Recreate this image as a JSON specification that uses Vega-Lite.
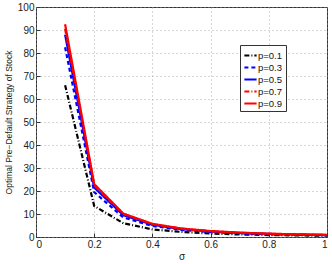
{
  "$schema": "https://vega.github.io/schema/vega-lite/v6.json",
  "width": 291,
  "height": 230,
  "autosize": "none",
  "padding": {"left": 36, "top": 7, "right": 5, "bottom": 27},
  "background": "white",
  "config": {
    "font": "Liberation Sans",
    "view": {"stroke": "#333", "strokeWidth": 1},
    "axis": {
      "grid": true,
      "gridDash": [1, 3],
      "gridColor": "#999",
      "gridOpacity": 0.8,
      "domain": false,
      "tickColor": "#333",
      "tickSize": -4,
      "labelFont": "Liberation Sans",
      "labelFontSize": 10,
      "labelColor": "#222",
      "titleFont": "Liberation Sans",
      "titleFontWeight": "normal",
      "titleColor": "#222"
    }
  },
  "data": {
    "values": [
      {"sigma": 0.1, "p": "p=0.1", "v": 66}, {"sigma": 0.2, "p": "p=0.1", "v": 13.5}, {"sigma": 0.3, "p": "p=0.1", "v": 6}, {"sigma": 0.4, "p": "p=0.1", "v": 3.3}, {"sigma": 0.5, "p": "p=0.1", "v": 2.2}, {"sigma": 0.6, "p": "p=0.1", "v": 1.5}, {"sigma": 0.7, "p": "p=0.1", "v": 1.1}, {"sigma": 0.8, "p": "p=0.1", "v": 0.85}, {"sigma": 0.9, "p": "p=0.1", "v": 0.7}, {"sigma": 1.0, "p": "p=0.1", "v": 0.55},
      {"sigma": 0.1, "p": "p=0.3", "v": 82.5}, {"sigma": 0.2, "p": "p=0.3", "v": 19.5}, {"sigma": 0.3, "p": "p=0.3", "v": 8.5}, {"sigma": 0.4, "p": "p=0.3", "v": 4.8}, {"sigma": 0.5, "p": "p=0.3", "v": 3.1}, {"sigma": 0.6, "p": "p=0.3", "v": 2.15}, {"sigma": 0.7, "p": "p=0.3", "v": 1.6}, {"sigma": 0.8, "p": "p=0.3", "v": 1.2}, {"sigma": 0.9, "p": "p=0.3", "v": 0.95}, {"sigma": 1.0, "p": "p=0.3", "v": 0.8},
      {"sigma": 0.1, "p": "p=0.5", "v": 88}, {"sigma": 0.2, "p": "p=0.5", "v": 21.5}, {"sigma": 0.3, "p": "p=0.5", "v": 9.5}, {"sigma": 0.4, "p": "p=0.5", "v": 5.3}, {"sigma": 0.5, "p": "p=0.5", "v": 3.4}, {"sigma": 0.6, "p": "p=0.5", "v": 2.35}, {"sigma": 0.7, "p": "p=0.5", "v": 1.75}, {"sigma": 0.8, "p": "p=0.5", "v": 1.35}, {"sigma": 0.9, "p": "p=0.5", "v": 1.05}, {"sigma": 1.0, "p": "p=0.5", "v": 0.85},
      {"sigma": 0.1, "p": "p=0.7", "v": 90.5}, {"sigma": 0.2, "p": "p=0.7", "v": 22.5}, {"sigma": 0.3, "p": "p=0.7", "v": 10}, {"sigma": 0.4, "p": "p=0.7", "v": 5.6}, {"sigma": 0.5, "p": "p=0.7", "v": 3.6}, {"sigma": 0.6, "p": "p=0.7", "v": 2.5}, {"sigma": 0.7, "p": "p=0.7", "v": 1.85}, {"sigma": 0.8, "p": "p=0.7", "v": 1.4}, {"sigma": 0.9, "p": "p=0.7", "v": 1.1}, {"sigma": 1.0, "p": "p=0.7", "v": 0.9},
      {"sigma": 0.1, "p": "p=0.9", "v": 92.5}, {"sigma": 0.2, "p": "p=0.9", "v": 23}, {"sigma": 0.3, "p": "p=0.9", "v": 10.2}, {"sigma": 0.4, "p": "p=0.9", "v": 5.7}, {"sigma": 0.5, "p": "p=0.9", "v": 3.7}, {"sigma": 0.6, "p": "p=0.9", "v": 2.6}, {"sigma": 0.7, "p": "p=0.9", "v": 1.9}, {"sigma": 0.8, "p": "p=0.9", "v": 1.45}, {"sigma": 0.9, "p": "p=0.9", "v": 1.15}, {"sigma": 1.0, "p": "p=0.9", "v": 0.95}
    ]
  },
  "mark": {"type": "line", "strokeWidth": 2.2, "clip": true},
  "encoding": {
    "x": {
      "field": "sigma", "type": "quantitative",
      "scale": {"domain": [0, 1], "nice": false},
      "axis": {"values": [0, 0.2, 0.4, 0.6, 0.8, 1], "format": "~g", "title": "σ", "titleFontSize": 10, "labelPadding": 6, "titlePadding": 2}
    },
    "y": {
      "field": "v", "type": "quantitative",
      "scale": {"domain": [0, 100], "nice": false},
      "axis": {"values": [0, 10, 20, 30, 40, 50, 60, 70, 80, 90, 100], "title": "Optimal Pre−Default Strategy of Stock", "titleFontSize": 8.5, "labelPadding": 6, "titlePadding": 4}
    },
    "color": {
      "field": "p", "type": "nominal",
      "scale": {"domain": ["p=0.1", "p=0.3", "p=0.5", "p=0.7", "p=0.9"], "range": ["#000000", "#0000ff", "#0000ff", "#ff0000", "#ff0000"]},
      "legend": {
        "title": null, "orient": "none", "legendX": 204, "legendY": 38,
        "symbolType": "stroke", "symbolSize": 150, "symbolStrokeWidth": 2,
        "labelFontSize": 9.5, "labelColor": "#111", "rowPadding": 0, "labelOffset": 0,
        "strokeColor": "#333", "fillColor": "white", "padding": 3
      }
    },
    "strokeDash": {
      "field": "p", "type": "nominal",
      "scale": {"domain": ["p=0.1", "p=0.3", "p=0.5", "p=0.7", "p=0.9"], "range": [[5, 2, 1, 2], [4, 3], [1, 0], [5, 2, 1, 2], [1, 0]]},
      "legend": {
        "title": null, "orient": "none", "legendX": 204, "legendY": 38,
        "symbolType": "stroke", "symbolSize": 150, "symbolStrokeWidth": 2,
        "labelFontSize": 9.5, "labelColor": "#111", "rowPadding": 0, "labelOffset": 0,
        "strokeColor": "#333", "fillColor": "white", "padding": 3
      }
    }
  }
}
